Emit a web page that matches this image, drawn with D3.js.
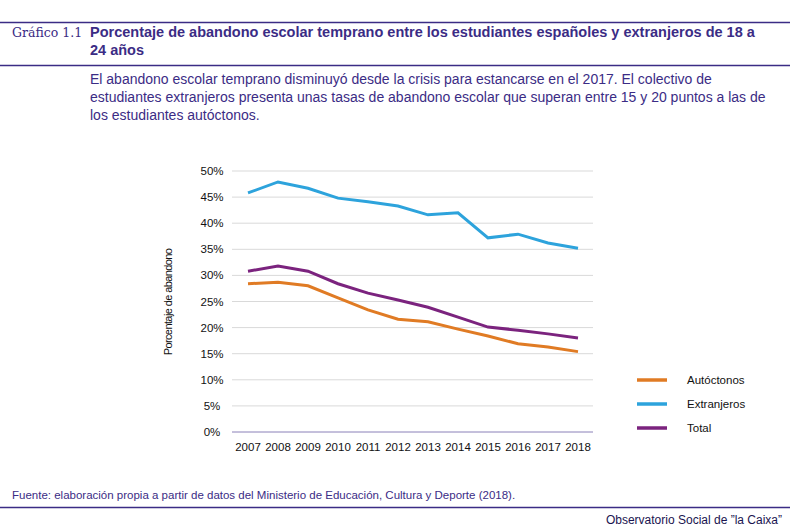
<!DOCTYPE html>
<html><head><meta charset="utf-8">
<script src="https://cdn.jsdelivr.net/npm/d3@7"></script>
<style>
body{margin:0;background:#fff;}
text{font-family:"Liberation Sans",Arial,sans-serif;}
text.serif{font-family:"DejaVu Serif","Liberation Serif",serif;}
</style></head>
<body><div id="chart"></div>
<script>
const years = [2007,2008,2009,2010,2011,2012,2013,2014,2015,2016,2017,2018];
const autoctonos = [28.4,28.7,28.0,25.7,23.4,21.6,21.1,19.7,18.4,16.9,16.3,15.4];
const extranjeros = [45.8,47.9,46.7,44.8,44.1,43.3,41.6,42.0,37.2,37.9,36.2,35.2];
const total = [30.8,31.8,30.8,28.4,26.6,25.3,23.9,22.0,20.1,19.5,18.8,18.0];
const yTicks = [0,5,10,15,20,25,30,35,40,45,50];
const series = [
  {name:"Autóctonos", values:autoctonos, color:"#e07b24"},
  {name:"Extranjeros", values:extranjeros, color:"#2da3dc"},
  {name:"Total", values:total, color:"#7b237e"}
];
const purple = "#3b2c85";

const svg = d3.select("#chart").append("svg").attr("width",800).attr("height",531);

svg.append("line").attr("x1",0).attr("x2",790).attr("y1",22.5).attr("y2",22.5).attr("stroke",purple).attr("stroke-width",1.5);
svg.append("line").attr("x1",0).attr("x2",790).attr("y1",65.5).attr("y2",65.5).attr("stroke",purple).attr("stroke-width",1.5);
svg.append("text").attr("class","serif").attr("x",12).attr("y",37).attr("font-size",12.5).attr("fill",purple).text("Gráfico 1.1");
svg.append("text").attr("x",90).attr("y",37).attr("font-size",14.5).attr("font-weight","bold").attr("fill",purple).text("Porcentaje de abandono escolar temprano entre los estudiantes españoles y extranjeros de 18 a");
svg.append("text").attr("x",90).attr("y",55).attr("font-size",14.5).attr("font-weight","bold").attr("fill",purple).text("24 años");
["El abandono escolar temprano disminuyó desde la crisis para estancarse en el 2017. El colectivo de",
 "estudiantes extranjeros presenta unas tasas de abandono escolar que superan entre 15 y 20 puntos a las de",
 "los estudiantes autóctonos."].forEach((t,i)=>
  svg.append("text").attr("x",90).attr("y",84+i*18).attr("font-size",14).attr("fill",purple).text(t));

const x = d3.scalePoint().domain(years).range([248,578]);
const y = d3.scaleLinear().domain([0,50]).range([432,171]);

const g = svg.append("g");
yTicks.forEach(t=>{
  g.append("line").attr("x1",232).attr("x2",593).attr("y1",y(t)).attr("y2",y(t))
   .attr("stroke",t===0?"#8a80b8":"#d9d9d9").attr("stroke-width",1);
  g.append("text").attr("x",212).attr("y",y(t)+4).attr("text-anchor","middle").attr("font-size",11.5).attr("fill","#111").text(t+"%");
});
years.forEach(yr=>g.append("text").attr("x",x(yr)).attr("y",451).attr("text-anchor","middle").attr("font-size",11.5).attr("fill","#111").text(yr));
svg.append("text").attr("transform","translate(172,302) rotate(-90)").attr("text-anchor","middle").attr("font-size",11).attr("letter-spacing",-0.6).attr("fill","#111").text("Porcentaje de abandono");

const line = d3.line().x((d,i)=>x(years[i])).y(d=>y(d));
series.forEach((s,i)=>{
  g.append("path").datum(s.values).attr("d",line).attr("fill","none").attr("stroke",s.color).attr("stroke-width",3);
  svg.append("line").attr("x1",637).attr("x2",667).attr("y1",380+i*24).attr("y2",380+i*24).attr("stroke",s.color).attr("stroke-width",3.5);
  svg.append("text").attr("x",687).attr("y",384+i*24).attr("font-size",11.5).attr("fill","#111").text(s.name);
});

svg.append("text").attr("x",12).attr("y",499).attr("font-size",11.5).attr("fill",purple).text("Fuente: elaboración propia a partir de datos del Ministerio de Educación, Cultura y Deporte (2018).");
svg.append("line").attr("x1",0).attr("x2",790).attr("y1",507.5).attr("y2",507.5).attr("stroke",purple).attr("stroke-width",1.5);
svg.append("text").attr("x",782).attr("y",524).attr("text-anchor","end").attr("font-size",12).attr("fill","#1a1450").text("Observatorio Social de ”la Caixa”");
</script></body></html>
